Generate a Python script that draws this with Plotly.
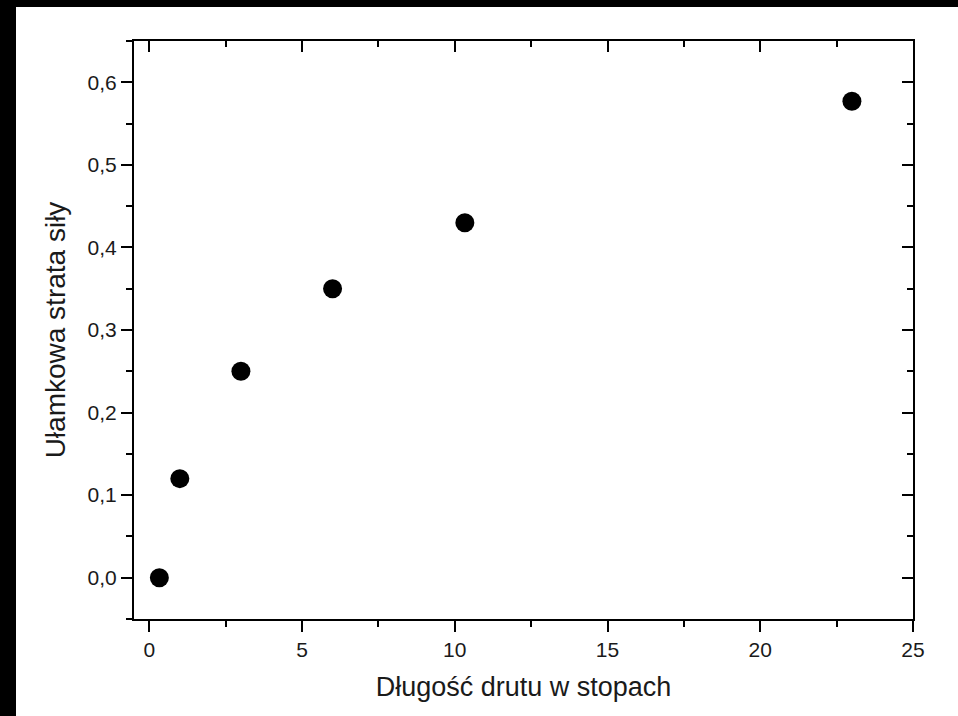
import plotly.graph_objects as go

# Data
dlugosc = [0.33, 1.0, 3.0, 6.0, 10.33, 23.0]          # Długość drutu w stopach
strata = [0.0, 0.12, 0.25, 0.35, 0.43, 0.577]          # Ułamkowa strata siły

x_ticks = [0, 5, 10, 15, 20, 25]
y_ticks = [0.0, 0.1, 0.2, 0.3, 0.4, 0.5, 0.6]
y_ticklabels = ["0,0", "0,1", "0,2", "0,3", "0,4", "0,5", "0,6"]

W, H = 958, 716
ML, MR, MT, MB = 134, 45, 41, 97
PW, PH = W - ML - MR, H - MT - MB

font_family = "Liberation Sans, Arial, sans-serif"
txt = "#1a1a1a"

fig = go.Figure()
fig.add_trace(go.Scatter(
    x=dlugosc, y=strata, mode="markers",
    marker=dict(color="black", size=19, line=dict(width=0)),
    showlegend=False, hoverinfo="x+y",
))
# invisible companion trace on mirrored axes so they are drawn
fig.add_trace(go.Scatter(
    x=dlugosc, y=strata, xaxis="x2", yaxis="y2", mode="markers",
    marker=dict(opacity=0), showlegend=False, hoverinfo="skip",
))

common = dict(showgrid=False, zeroline=False, showline=True, linecolor="black",
              linewidth=2, tickcolor="black", tickwidth=2)

fig.update_layout(
    width=W, height=H,
    margin=dict(l=ML, r=MR, t=MT, b=MB),
    paper_bgcolor="white", plot_bgcolor="white",
    separators=", ",
    font=dict(family=font_family, color=txt, size=20),
    xaxis=dict(range=[-0.5, 25], tickvals=x_ticks, ticks="outside", ticklen=11,
               minor=dict(dtick=2.5, tick0=0, ticks="outside", ticklen=6,
                          tickcolor="black", tickwidth=2),
               tickfont=dict(size=21, color=txt),
               title=dict(text="Długość drutu w stopach", font=dict(size=27, color=txt),
                          standoff=17),
               **common),
    yaxis=dict(range=[-0.05, 0.65], tickvals=y_ticks, ticktext=y_ticklabels,
               ticks="outside", ticklen=11,
               minor=dict(dtick=0.05, tick0=0, ticks="outside", ticklen=6,
                          tickcolor="black", tickwidth=2),
               tickfont=dict(size=21, color=txt),
               title=dict(text="Ułamkowa strata siły", font=dict(size=28, color=txt),
                          standoff=14),
               **common),
    xaxis2=dict(range=[-0.5, 25], overlaying="x", side="top", anchor="y",
                tickvals=x_ticks, ticks="inside", ticklen=11, showticklabels=False,
                minor=dict(dtick=2.5, tick0=0, ticks="inside", ticklen=6,
                           tickcolor="black", tickwidth=2),
                **common),
    yaxis2=dict(range=[-0.05, 0.65], overlaying="y", side="right", anchor="x",
                tickvals=y_ticks, ticks="inside", ticklen=11, showticklabels=False,
                minor=dict(dtick=0.05, tick0=0, ticks="inside", ticklen=6,
                           tickcolor="black", tickwidth=2),
                **common),
)

# black frame strips (left and top edges of the reference image)
def px_x(p):
    return (p - ML) / PW

def px_y(p):
    return (H - MB - p) / PH

fig.add_shape(type="rect", xref="paper", yref="paper",
              x0=px_x(-2), x1=px_x(16), y0=px_y(H + 2), y1=px_y(-2),
              fillcolor="black", line=dict(width=0), layer="above")
fig.add_shape(type="rect", xref="paper", yref="paper",
              x0=px_x(-2), x1=px_x(W + 2), y0=px_y(7), y1=px_y(-2),
              fillcolor="black", line=dict(width=0), layer="above")

fig.write_html(
    "out.html",
    config={"displayModeBar": False},
    post_script=(
        "document.body.style.margin='0';"
        "document.body.style.overflow='hidden';"
        "document.documentElement.style.overflow='hidden';"
    ),
)
